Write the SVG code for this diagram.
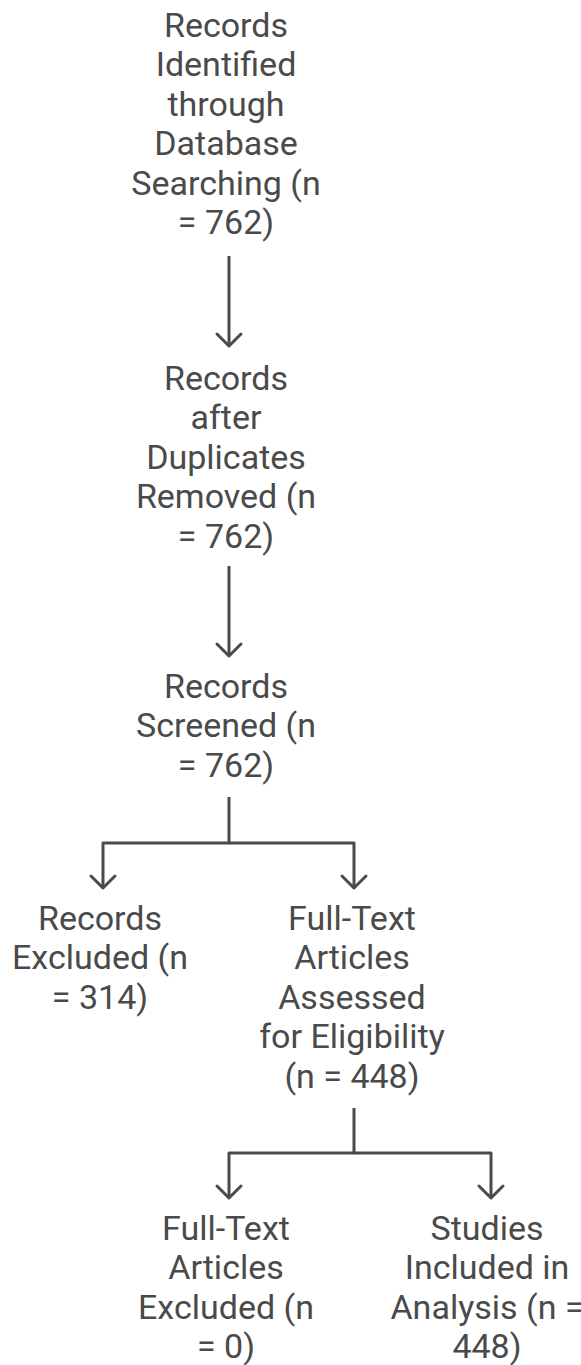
<svg xmlns="http://www.w3.org/2000/svg" width="581" height="1365" viewBox="0 0 581 1365">
  <style>
    .t { font-family: Roboto, "Liberation Sans", sans-serif; font-size: 34px; fill: #4a4a4a; text-anchor: middle; }
    .c { fill: none; stroke: #4a4a4a; stroke-width: 3; stroke-linejoin: round; }
  </style>
  <defs>
    <marker id="arr" markerUnits="userSpaceOnUse" markerWidth="30" markerHeight="30" refX="15" refY="15" orient="auto">
      <path d="M3,3 L15,15 L3,27" fill="none" stroke="#4a4a4a" stroke-width="3" stroke-linejoin="round" stroke-linecap="round"/>
    </marker>
  </defs>
  <rect width="581" height="1365" fill="#ffffff"/>

  <g id="connectors">
    <path class="c" d="M229,256 V346" marker-end="url(#arr)"/>
    <path class="c" d="M229,566 V656" marker-end="url(#arr)"/>
    <path class="c" d="M229,797 V843 H103 V888" marker-end="url(#arr)"/>
    <path class="c" d="M229,843 H354 V888" marker-end="url(#arr)"/>
    <path class="c" d="M354,1108 V1153 H229 V1198" marker-end="url(#arr)"/>
    <path class="c" d="M354,1153 H491 V1198" marker-end="url(#arr)"/>
  </g>

  <g id="node-identified">
    <text class="t" x="226" y="37">Records</text>
    <text class="t" x="226" y="76.4">Identified</text>
    <text class="t" x="226" y="115.8">through</text>
    <text class="t" x="226" y="155.2">Database</text>
    <text class="t" x="226" y="194.6">Searching (n</text>
    <text class="t" x="226" y="234">= 762)</text>
  </g>

  <g id="node-duplicates">
    <text class="t" x="226" y="390">Records</text>
    <text class="t" x="226" y="429.4">after</text>
    <text class="t" x="226" y="468.8">Duplicates</text>
    <text class="t" x="226" y="508.2">Removed (n</text>
    <text class="t" x="226" y="547.6">= 762)</text>
  </g>

  <g id="node-screened">
    <text class="t" x="226" y="698">Records</text>
    <text class="t" x="226" y="737.4">Screened (n</text>
    <text class="t" x="226" y="776.8">= 762)</text>
  </g>

  <g id="node-excluded">
    <text class="t" x="100" y="930">Records</text>
    <text class="t" x="100" y="969.4">Excluded (n</text>
    <text class="t" x="100" y="1008.8">= 314)</text>
  </g>

  <g id="node-assessed">
    <text class="t" x="352" y="930">Full-Text</text>
    <text class="t" x="352" y="969.4">Articles</text>
    <text class="t" x="352" y="1008.8">Assessed</text>
    <text class="t" x="352" y="1048.2">for Eligibility</text>
    <text class="t" x="352" y="1087.6">(n = 448)</text>
  </g>

  <g id="node-ft-excluded">
    <text class="t" x="226" y="1240">Full-Text</text>
    <text class="t" x="226" y="1279.4">Articles</text>
    <text class="t" x="226" y="1318.8">Excluded (n</text>
    <text class="t" x="226" y="1358.2">= 0)</text>
  </g>

  <g id="node-included">
    <text class="t" x="487" y="1240">Studies</text>
    <text class="t" x="487" y="1279.4">Included in</text>
    <text class="t" x="487" y="1318.8">Analysis (n =</text>
    <text class="t" x="487" y="1358.2">448)</text>
  </g>
</svg>
